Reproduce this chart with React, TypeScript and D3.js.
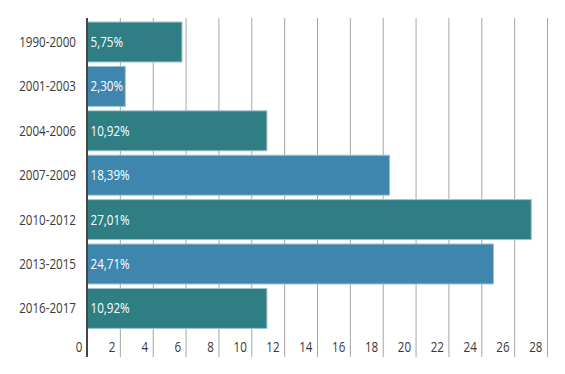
import React, { useRef, useEffect } from 'react';
import * as d3 from 'd3';

const periods = ['1990-2000', '2001-2003', '2004-2006', '2007-2009', '2010-2012', '2013-2015', '2016-2017'];
const shares = [5.75, 2.3, 10.92, 18.39, 27.01, 24.71, 10.92];
const xTicks = [0, 2, 4, 6, 8, 10, 12, 14, 16, 18, 20, 22, 24, 26, 28];
const barColors = ['#2e7e84', '#3f86ae'];

export default function App() {
    const ref = useRef<SVGSVGElement | null>(null);

    useEffect(() => {
        const width = 565;
        const height = 374;
        const font = "'Open Sans', sans-serif";
        const squeeze = 0.83; // the original face is a narrow one

        const svg = d3.select(ref.current);
        svg.selectAll('*').remove();

        const x = d3.scaleLinear().domain([0, 28]).range([87.5, 547.5]);
        const y = d3.scaleBand<string>()
            .domain(periods)
            .range([19.8, 330.6])
            .paddingInner(0.1)
            .paddingOuter(0.05);

        const styleText = (sel: any) => sel
            .style('font-family', font)
            .style('font-size', '14px');

        // vertical grid lines
        svg.append('g')
            .selectAll('line')
            .data(xTicks.slice(1))
            .enter()
            .append('line')
            .attr('x1', d => x(d))
            .attr('x2', d => x(d))
            .attr('y1', 18)
            .attr('y2', 357)
            .attr('stroke', '#a6a6a6')
            .attr('stroke-width', 1);

        // bars
        svg.append('g')
            .selectAll('rect')
            .data(shares)
            .enter()
            .append('rect')
            .attr('x', x(0))
            .attr('y', (d, i) => y(periods[i])!)
            .attr('width', d => x(d) - x(0))
            .attr('height', y.bandwidth())
            .attr('fill', (d, i) => barColors[i % 2])
            .attr('stroke', '#9cc3cc')
            .attr('stroke-width', 1);

        // value labels inside bars
        svg.append('g')
            .selectAll('text')
            .data(shares)
            .enter()
            .append('text')
            .attr('transform', (d, i) => `translate(${x(0) + 3},${y(periods[i])! + y.bandwidth() / 2}) scale(${squeeze},1)`)
            .attr('dy', '0.35em')
            .call(styleText)
            .attr('fill', '#ffffff')
            .text(d => d3.format('.2f')(d).replace('.', ',') + '%');

        // category labels
        svg.append('g')
            .selectAll('text')
            .data(periods)
            .enter()
            .append('text')
            .attr('transform', d => `translate(76,${y(d)! + y.bandwidth() / 2}) scale(${squeeze},1)`)
            .attr('dy', '0.35em')
            .attr('text-anchor', 'end')
            .call(styleText)
            .attr('fill', '#3a3a3a')
            .text(d => d);

        // x tick labels, sitting just left of each grid line
        svg.append('g')
            .selectAll('text')
            .data(xTicks)
            .enter()
            .append('text')
            .attr('transform', d => `translate(${x(d) - 5},347) scale(${squeeze},1)`)
            .attr('dy', '0.35em')
            .attr('text-anchor', 'end')
            .call(styleText)
            .attr('fill', '#3a3a3a')
            .text(d => d);

        // axis line
        svg.append('line')
            .attr('x1', x(0) - 0.5)
            .attr('x2', x(0) - 0.5)
            .attr('y1', 18)
            .attr('y2', 357)
            .attr('stroke', '#444444')
            .attr('stroke-width', 2);

        svg.attr('width', width).attr('height', height);
    }, []);

    return (
        <svg ref={ref} width={565} height={374} style={{ position: 'absolute', left: 0, top: 0, background: '#fff' }} />
    );
}
